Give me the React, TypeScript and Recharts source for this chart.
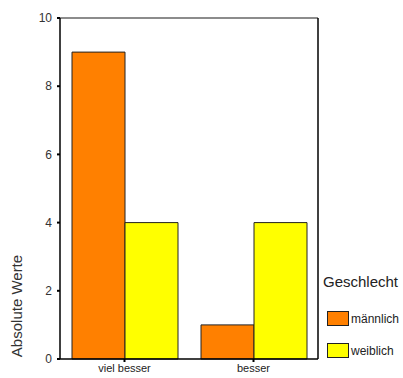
import { Bar, BarChart, Label, Legend, XAxis, YAxis } from "recharts";

const categories = ["viel besser", "besser"];
const maennlich = [9, 1];
const weiblich = [4, 4];
const yTicks = [0, 2, 4, 6, 8, 10];

const data = categories.map((name, i) => ({
  name,
  maennlich: maennlich[i],
  weiblich: weiblich[i],
}));

const series = [
  { key: "maennlich", label: "männlich", color: "#FF8000" },
  { key: "weiblich", label: "weiblich", color: "#FFFF00" },
];

const font = "'Liberation Sans', Arial, sans-serif";

const LegendBox = () => (
  <div style={{ fontFamily: font, color: "#222", textAlign: "left" }}>
    <div style={{ fontSize: 15, lineHeight: "18px", marginBottom: 20 }}>Geschlecht</div>
    {series.map((s) => (
      <div key={s.key} style={{ display: "flex", alignItems: "center", height: 15, marginBottom: 17, marginLeft: 4 }}>
        <div
          style={{
            width: 20,
            height: 13,
            background: s.color,
            border: "1px solid #222",
            marginRight: 2,
          }}
        />
        <span style={{ fontSize: 12 }}>{s.label}</span>
      </div>
    ))}
  </div>
);

const YLabel = () => (
  <text
    x={22}
    y={306}
    transform="rotate(-90 22 306)"
    textAnchor="middle"
    fontSize={15}
    fontFamily={font}
    fill="#333"
  >
    Absolute Werte
  </text>
);

export default function App() {
  return (
    <div style={{ position: "absolute", left: 0, top: 0, background: "#fff" }}>
      <BarChart
        width={403}
        height={378}
        data={data}
        margin={{ top: 17, right: 84, bottom: 0, left: 0 }}
        barCategoryGap={12}
        barGap={0}
      >
        <XAxis
          dataKey="name"
          height={19}
          tickSize={3}
          tickMargin={2}
          axisLine={{ stroke: "#000", strokeWidth: 1.5 }}
          tickLine={{ stroke: "#000", strokeWidth: 2 }}
          tick={{ fontSize: 11, fontFamily: font, fill: "#222" }}
        />
        <XAxis
          xAxisId="top"
          orientation="top"
          dataKey="name"
          height={1}
          tick={false}
          tickLine={false}
          axisLine={{ stroke: "#666", strokeWidth: 1.5 }}
        />
        <YAxis
          width={60}
          domain={[0, 10]}
          ticks={yTicks}
          interval={0}
          tickSize={3}
          tickMargin={5}
          axisLine={{ stroke: "#000", strokeWidth: 1.5 }}
          tickLine={{ stroke: "#000", strokeWidth: 2 }}
          tick={{ fontSize: 12, fontFamily: font, fill: "#333" }}
        >
          <Label content={<YLabel />} />
        </YAxis>
        <YAxis
          yAxisId="right"
          orientation="right"
          width={1}
          domain={[0, 10]}
          tick={false}
          tickLine={false}
          axisLine={{ stroke: "#000", strokeWidth: 1.5 }}
        />
        <Legend
          content={<LegendBox />}
          layout="horizontal"
          align="center"
          verticalAlign="middle"
          wrapperStyle={{ position: "absolute", left: 323, top: 273, width: 80 }}
        />
        {series.map((s) => (
          <Bar
            key={s.key}
            dataKey={s.key}
            name={s.label}
            fill={s.color}
            stroke="#222"
            strokeWidth={1}
            isAnimationActive={false}
          />
        ))}
      </BarChart>
    </div>
  );
}
